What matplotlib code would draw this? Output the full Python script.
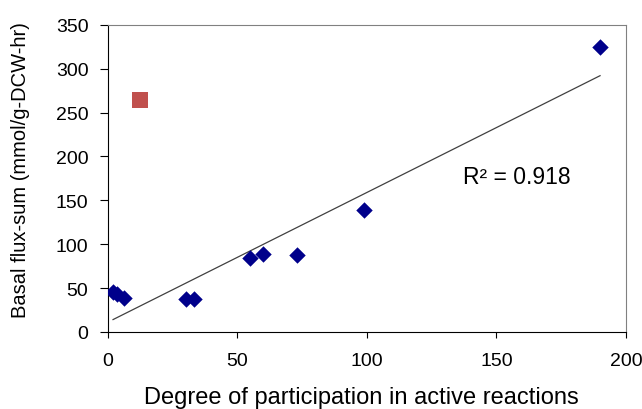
import numpy as np
import matplotlib
matplotlib.use("Agg")
import matplotlib.pyplot as plt

plt.rcParams['font.family'] = ['Liberation Sans', 'DejaVu Sans']

participation = [2.0, 3.4, 6.2, 30.1, 33.2, 55.0, 60.0, 73.0, 99.0, 190.0]
flux_sum = [46, 43, 39, 37, 37, 84, 89, 88, 139, 325]
outlier_x = [12.4]
outlier_y = [264]
r2_label = "R² = 0.918"

fig = plt.figure(figsize=(6.42, 4.10), dpi=100)
ax = fig.add_axes([0.168, 0.188, 0.807, 0.749])

x = np.array(participation)
y = np.array(flux_sum)
slope, intercept = np.polyfit(x, y, 1)
xl = np.array([x.min(), x.max()])
ax.plot(xl, slope * xl + intercept, color='#404040', lw=0.9)

ax.scatter(x, y, marker='D', s=70, color='#00008B', zorder=3, linewidths=0)
ax.scatter(outlier_x, outlier_y, marker='s', s=130, color='#C0504D', zorder=3, linewidths=0)

ax.text(137, 177, r2_label, fontsize=16.5, va='center', ha='left')

ax.set_xlim(0, 200)
ax.set_ylim(0, 350)
ax.set_xticks(np.arange(0, 201, 50))
ax.set_yticks(np.arange(0, 351, 50))
ax.tick_params(axis='x', labelsize=14, direction='out', length=4.5, pad=10)
ax.tick_params(axis='y', labelsize=14, direction='out', length=6, pad=8)
for s in ['top', 'right']:
    ax.spines[s].set_color('#808080')
ax.set_xlabel('Degree of participation in active reactions', fontsize=17)
ax.set_ylabel('Basal flux-sum (mmol/g-DCW-hr)', fontsize=14.5)
ax.xaxis.set_label_coords(0.49, -0.175)
ax.yaxis.set_label_coords(-0.15, 0.53)

fig.savefig('out.png', dpi=100)
